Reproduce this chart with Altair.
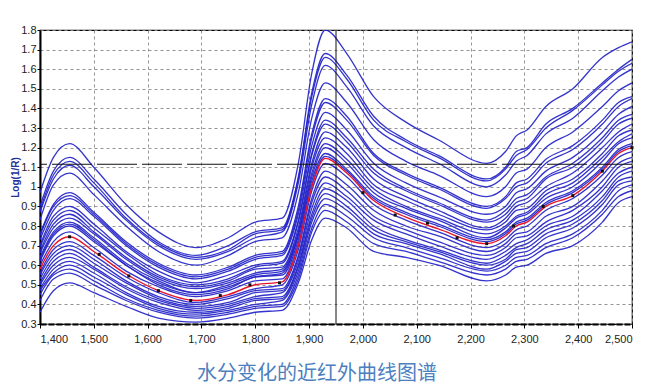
import altair as alt
import pandas as pd

# wavelengths (nm) at which every curve was read
wavelengths = [1400, 1425, 1455, 1500, 1560, 1620, 1690, 1750, 1800, 1850,
               1880, 1905, 1930, 1970, 2020, 2080, 2140, 2230, 2265, 2285,
               2305, 2340, 2390, 2445, 2475, 2500]

# blue spectra, Log(1/R) (top to bottom)
blue_curves = [
    [0.97, 1.15, 1.22, 1.10, 0.91, 0.77, 0.69, 0.74, 0.82, 0.84, 1.12, 1.58, 1.80, 1.68, 1.46, 1.33, 1.24, 1.12, 1.18, 1.26, 1.29, 1.41, 1.50, 1.66, 1.71, 1.74],
    [0.90, 1.08, 1.15, 1.04, 0.86, 0.72, 0.65, 0.70, 0.77, 0.79, 1.05, 1.48, 1.68, 1.57, 1.36, 1.24, 1.16, 1.04, 1.10, 1.18, 1.20, 1.32, 1.40, 1.53, 1.60, 1.65],
    [0.88, 1.06, 1.13, 1.02, 0.84, 0.71, 0.64, 0.68, 0.76, 0.78, 1.04, 1.46, 1.66, 1.55, 1.34, 1.23, 1.15, 1.03, 1.09, 1.16, 1.19, 1.30, 1.39, 1.52, 1.59, 1.63],
    [0.87, 1.04, 1.11, 1.00, 0.83, 0.70, 0.63, 0.67, 0.74, 0.77, 1.02, 1.42, 1.62, 1.51, 1.31, 1.20, 1.12, 1.00, 1.06, 1.13, 1.16, 1.27, 1.35, 1.49, 1.56, 1.60],
    [0.83, 1.01, 1.07, 0.96, 0.80, 0.67, 0.60, 0.65, 0.72, 0.74, 0.97, 1.35, 1.53, 1.43, 1.24, 1.13, 1.06, 0.95, 1.00, 1.07, 1.09, 1.20, 1.28, 1.41, 1.49, 1.53],
    [0.76, 0.91, 0.97, 0.87, 0.72, 0.61, 0.55, 0.59, 0.65, 0.67, 0.90, 1.27, 1.45, 1.36, 1.17, 1.07, 1.00, 0.90, 0.95, 1.02, 1.04, 1.14, 1.21, 1.34, 1.43, 1.46],
    [0.75, 0.90, 0.955, 0.86, 0.71, 0.60, 0.54, 0.58, 0.64, 0.66, 0.88, 1.25, 1.43, 1.34, 1.16, 1.06, 0.99, 0.89, 0.94, 1.00, 1.02, 1.12, 1.19, 1.32, 1.41, 1.45],
    [0.73, 0.88, 0.94, 0.85, 0.70, 0.59, 0.53, 0.57, 0.63, 0.65, 0.86, 1.21, 1.38, 1.29, 1.12, 1.02, 0.95, 0.86, 0.90, 0.97, 0.99, 1.08, 1.15, 1.28, 1.37, 1.41],
    [0.70, 0.85, 0.90, 0.81, 0.67, 0.57, 0.51, 0.55, 0.60, 0.62, 0.83, 1.17, 1.34, 1.25, 1.09, 0.99, 0.92, 0.83, 0.88, 0.94, 0.96, 1.05, 1.12, 1.25, 1.34, 1.37],
    [0.69, 0.83, 0.88, 0.79, 0.66, 0.55, 0.50, 0.53, 0.59, 0.61, 0.82, 1.16, 1.32, 1.23, 1.07, 0.98, 0.91, 0.82, 0.86, 0.92, 0.94, 1.04, 1.10, 1.23, 1.32, 1.35],
    [0.67, 0.81, 0.86, 0.77, 0.64, 0.54, 0.49, 0.52, 0.58, 0.59, 0.79, 1.12, 1.28, 1.20, 1.04, 0.95, 0.88, 0.79, 0.84, 0.90, 0.92, 1.00, 1.07, 1.20, 1.28, 1.32],
    [0.66, 0.79, 0.84, 0.76, 0.63, 0.53, 0.48, 0.51, 0.56, 0.58, 0.77, 1.10, 1.25, 1.17, 1.01, 0.93, 0.86, 0.78, 0.82, 0.88, 0.89, 0.98, 1.04, 1.17, 1.26, 1.29],
    [0.64, 0.77, 0.82, 0.74, 0.61, 0.52, 0.46, 0.50, 0.55, 0.57, 0.76, 1.07, 1.22, 1.14, 0.99, 0.90, 0.84, 0.76, 0.80, 0.85, 0.87, 0.96, 1.02, 1.15, 1.23, 1.27],
    [0.63, 0.76, 0.81, 0.73, 0.60, 0.51, 0.46, 0.49, 0.54, 0.56, 0.75, 1.05, 1.20, 1.12, 0.97, 0.89, 0.83, 0.74, 0.79, 0.84, 0.86, 0.94, 1.00, 1.13, 1.22, 1.25],
    [0.62, 0.75, 0.80, 0.72, 0.60, 0.50, 0.45, 0.48, 0.54, 0.55, 0.73, 1.03, 1.17, 1.09, 0.95, 0.87, 0.81, 0.73, 0.77, 0.82, 0.84, 0.92, 0.98, 1.10, 1.19, 1.22],
    [0.60, 0.72, 0.77, 0.69, 0.57, 0.49, 0.44, 0.47, 0.52, 0.53, 0.71, 1.01, 1.155, 1.08, 0.94, 0.86, 0.80, 0.72, 0.76, 0.81, 0.83, 0.91, 0.97, 1.09, 1.18, 1.21],
    [0.56, 0.68, 0.72, 0.65, 0.54, 0.46, 0.41, 0.44, 0.48, 0.50, 0.68, 0.98, 1.12, 1.05, 0.91, 0.83, 0.77, 0.69, 0.73, 0.78, 0.80, 0.88, 0.94, 1.06, 1.15, 1.18],
    [0.55, 0.66, 0.70, 0.63, 0.52, 0.44, 0.40, 0.43, 0.47, 0.48, 0.65, 0.94, 1.08, 1.01, 0.88, 0.80, 0.75, 0.67, 0.71, 0.76, 0.77, 0.85, 0.90, 1.03, 1.12, 1.15],
    [0.53, 0.64, 0.68, 0.61, 0.51, 0.43, 0.39, 0.41, 0.46, 0.47, 0.64, 0.92, 1.05, 0.98, 0.85, 0.78, 0.72, 0.65, 0.69, 0.74, 0.75, 0.82, 0.88, 1.00, 1.10, 1.13],
    [0.51, 0.62, 0.66, 0.59, 0.49, 0.42, 0.38, 0.40, 0.44, 0.46, 0.62, 0.89, 1.02, 0.95, 0.83, 0.76, 0.70, 0.63, 0.67, 0.71, 0.73, 0.80, 0.85, 0.98, 1.07, 1.10],
    [0.50, 0.60, 0.64, 0.58, 0.48, 0.41, 0.37, 0.39, 0.43, 0.44, 0.60, 0.86, 0.99, 0.93, 0.80, 0.73, 0.68, 0.61, 0.65, 0.69, 0.71, 0.78, 0.83, 0.95, 1.05, 1.08],
    [0.48, 0.58, 0.62, 0.56, 0.46, 0.39, 0.36, 0.38, 0.42, 0.43, 0.59, 0.84, 0.965, 0.90, 0.78, 0.72, 0.67, 0.60, 0.63, 0.68, 0.69, 0.76, 0.81, 0.93, 1.03, 1.05],
    [0.47, 0.56, 0.60, 0.54, 0.45, 0.38, 0.35, 0.37, 0.40, 0.42, 0.57, 0.82, 0.94, 0.88, 0.76, 0.71, 0.66, 0.58, 0.62, 0.66, 0.67, 0.74, 0.79, 0.91, 1.01, 1.03],
    [0.45, 0.55, 0.58, 0.52, 0.43, 0.37, 0.34, 0.36, 0.39, 0.40, 0.55, 0.79, 0.91, 0.85, 0.74, 0.69, 0.64, 0.57, 0.60, 0.64, 0.65, 0.71, 0.76, 0.88, 0.98, 1.01],
    [0.42, 0.53, 0.56, 0.50, 0.42, 0.36, 0.33, 0.35, 0.38, 0.39, 0.53, 0.77, 0.88, 0.82, 0.71, 0.67, 0.62, 0.55, 0.58, 0.62, 0.63, 0.69, 0.74, 0.86, 0.95, 0.98],
    [0.36, 0.47, 0.51, 0.46, 0.39, 0.33, 0.31, 0.33, 0.36, 0.37, 0.51, 0.73, 0.84, 0.79, 0.67, 0.64, 0.60, 0.52, 0.55, 0.59, 0.60, 0.66, 0.70, 0.82, 0.92, 0.95],
]

# highlighted (red) spectrum
red_curve = [0.58, 0.70, 0.745, 0.67, 0.555, 0.47, 0.42, 0.45, 0.50, 0.515, 0.70, 1.00, 1.145,
             1.07, 0.93, 0.845, 0.785, 0.71, 0.75, 0.80, 0.82, 0.90, 0.955, 1.08, 1.17, 1.20]

# black markers on the red spectrum
dot_w = [1455, 1510, 1565, 1620, 1680, 1735, 1790, 1845, 2000, 2060, 2120, 2175, 2230, 2280, 2335, 2390, 2445, 2500]
dot_v = [0.745, 0.655, 0.545, 0.47, 0.42, 0.445, 0.50, 0.51, 0.97, 0.856, 0.815, 0.74, 0.71, 0.80, 0.90, 0.955, 1.08, 1.20]

# cursor cross-hair
cursor_w = [1950]
cursor_v = [1.115]

x_ticks = [1400, 1500, 1600, 1700, 1800, 1900, 2000, 2100, 2200, 2300, 2400, 2500]
y_ticks = [0.3, 0.4, 0.5, 0.6, 0.7, 0.8, 0.9, 1.0, 1.1, 1.2, 1.3, 1.4, 1.5, 1.6, 1.7, 1.8]

rows = []
for i, c in enumerate(blue_curves):
    for w, v in zip(wavelengths, c):
        rows.append({"curve": f"s{i}", "w": w, "v": v})
blue_df = pd.DataFrame(rows)
red_df = pd.DataFrame({"w": wavelengths, "v": red_curve})
dot_df = pd.DataFrame({"w": dot_w, "v": dot_v})

xs = alt.Scale(domain=[1400, 2500], nice=False)
ys = alt.Scale(domain=[0.3, 1.8], nice=False)
X = alt.X("w:Q", scale=xs, axis=alt.Axis(values=x_ticks, format=",d", title=None))
Y = alt.Y("v:Q", scale=ys, axis=alt.Axis(values=y_ticks, format=".1~f", title="Log(1/R)"))

blue = alt.Chart(blue_df).mark_line(interpolate="monotone", color="#2323c8", strokeWidth=1.3,
                                    opacity=0.92, clip=True).encode(x=X, y=Y, detail="curve:N")
red = alt.Chart(red_df).mark_line(interpolate="monotone", color="#e8152e", strokeWidth=1.4,
                                  clip=True).encode(x=X, y=Y)
dots = alt.Chart(dot_df).mark_square(size=9, color="#111111", opacity=1).encode(x=X, y=Y)
vline = alt.Chart(pd.DataFrame({"w": cursor_w})).mark_rule(color="#111111", strokeWidth=1).encode(x=X)
hline = alt.Chart(pd.DataFrame({"v": cursor_v})).mark_rule(color="#111111", strokeWidth=1,
                                                           strokeDash=[40, 5]).encode(y=Y)

chart = alt.layer(blue, red, dots, vline, hline).properties(
    width=592, height=294,
    autosize=alt.AutoSizeParams(type="none"),
    padding={"left": 32, "top": 22, "right": 16, "bottom": 61},
    title=alt.TitleParams("水分变化的近红外曲线图谱", orient="bottom", anchor="middle",
                          font="Noto Sans CJK SC", fontSize=20, fontWeight="normal",
                          color="#4d7fbf", offset=20, dx=-19),
).configure_view(stroke="#000000", strokeWidth=1.2).configure_axis(
    labelFont="Liberation Sans", labelFontSize=11, labelColor="#222222",
    tickColor="#000000", tickSize=4, domainColor="#000000", domainWidth=2,
    gridColor="#8a8a8a", gridDash=[3, 3], gridWidth=1, gridOpacity=0.9,
    titleFont="Liberation Sans", titleFontSize=10, titleFontWeight="bold", titleColor="#23339a",
).configure_axisX(labelPadding=5, domainDash=[6, 2]).configure_axisY(
    labelPadding=1, titlePadding=0, tickSize=3)

chart.save("out.html", embed_options={"renderer": "svg", "actions": False})
